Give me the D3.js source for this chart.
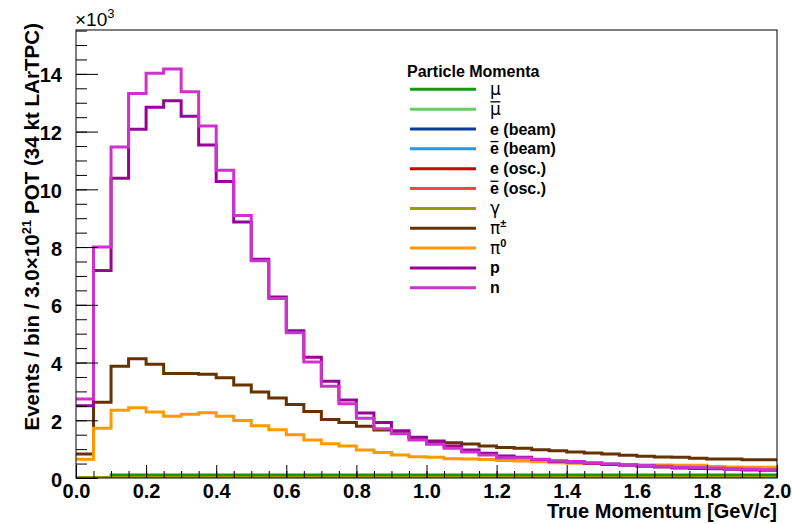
<!DOCTYPE html>
<html>
<head>
<meta charset="utf-8">
<script src="https://cdn.jsdelivr.net/npm/d3@7/dist/d3.min.js"></script>
<style>
body { margin: 0; background: #fff; }
text { font-family: "Liberation Sans", Arial, sans-serif; }
</style>
</head>
<body>
<svg id="chart" width="792" height="524"></svg>
<script>
// histogram contents, in units of 10^3 events per 0.05 GeV/c bin (40 bins, 0 - 2 GeV/c)
var binLow = 0.0, binHigh = 2.0, binWidth = 0.05;

var muVals = [0, 0, 0.1, 0.1, 0.1, 0.1, 0.1, 0.1, 0.1, 0.1, 0.1, 0.1, 0.1, 0.1, 0.1, 0.1, 0.1, 0.1, 0.1, 0.1,
              0.1, 0.1, 0.1, 0.1, 0.1, 0.1, 0.1, 0.1, 0.1, 0.1, 0.1, 0.1, 0.1, 0.1, 0.1, 0.1, 0.1, 0.1, 0.1, 0.1];
var muBarVals = [0, 0, 0, 0, 0, 0, 0, 0, 0, 0, 0, 0, 0, 0, 0, 0, 0, 0, 0, 0,
                 0, 0, 0, 0, 0, 0, 0, 0, 0, 0, 0, 0, 0, 0, 0, 0, 0, 0, 0, 0];
var eBeamVals = [0, 0, 0, 0, 0, 0, 0, 0, 0, 0, 0, 0, 0, 0, 0, 0, 0, 0, 0, 0,
                 0, 0, 0, 0, 0, 0, 0, 0, 0, 0, 0, 0, 0, 0, 0, 0, 0, 0, 0, 0];
var eBarBeamVals = [0, 0, 0, 0, 0, 0, 0, 0, 0, 0, 0, 0, 0, 0, 0, 0, 0, 0, 0, 0,
                    0, 0, 0, 0, 0, 0, 0, 0, 0, 0, 0, 0, 0, 0, 0, 0, 0, 0, 0, 0];
var eOscVals = [0, 0, 0, 0, 0, 0, 0, 0, 0, 0, 0, 0, 0, 0, 0, 0, 0, 0, 0, 0,
                0, 0, 0, 0, 0, 0, 0, 0, 0, 0, 0, 0, 0, 0, 0, 0, 0, 0, 0, 0];
var eBarOscVals = [0, 0, 0, 0, 0, 0, 0, 0, 0, 0, 0, 0, 0, 0, 0, 0, 0, 0, 0, 0,
                   0, 0, 0, 0, 0, 0, 0, 0, 0, 0, 0, 0, 0, 0, 0, 0, 0, 0, 0, 0];
var gammaVals = [0.02, 0.02, 0.02, 0.02, 0.02, 0.02, 0.02, 0.02, 0.02, 0.02, 0.02, 0.02, 0.02, 0.02, 0.02, 0.02, 0.02, 0.02, 0.02, 0.02,
                 0.02, 0.02, 0.02, 0.02, 0.02, 0.02, 0.02, 0.02, 0.02, 0.02, 0.02, 0.02, 0.02, 0.02, 0.02, 0.02, 0.02, 0.02, 0.02, 0.02];
var piChVals = [0.83, 2.62, 3.87, 4.13, 3.94, 3.62, 3.62, 3.59, 3.47, 3.22, 2.98, 2.77, 2.55, 2.30, 2.03, 1.92, 1.79, 1.66, 1.55, 1.40,
                1.28, 1.22, 1.18, 1.11, 1.06, 1.03, 0.98, 0.94, 0.90, 0.87, 0.83, 0.79, 0.75, 0.73, 0.72, 0.68, 0.66, 0.66, 0.63, 0.63];
var pi0Vals = [0.65, 1.72, 2.35, 2.43, 2.29, 2.14, 2.21, 2.26, 2.14, 1.99, 1.81, 1.67, 1.50, 1.32, 1.19, 1.11, 0.97, 0.88, 0.80, 0.74,
               0.72, 0.67, 0.66, 0.64, 0.61, 0.59, 0.56, 0.53, 0.51, 0.50, 0.47, 0.47, 0.45, 0.45, 0.44, 0.44, 0.40, 0.38, 0.37, 0.37];
var protonVals = [2.50, 7.19, 10.38, 12.08, 12.84, 13.07, 12.53, 11.54, 10.27, 8.87, 7.58, 6.27, 5.10, 4.18, 3.35, 2.70, 2.25, 1.92, 1.64, 1.41,
                  1.26, 1.11, 0.97, 0.86, 0.76, 0.72, 0.64, 0.58, 0.55, 0.51, 0.47, 0.44, 0.41, 0.38, 0.35, 0.33, 0.32, 0.30, 0.28, 0.27];
var neutronVals = [2.74, 8.00, 11.47, 13.32, 14.02, 14.17, 13.38, 12.19, 10.66, 9.09, 7.53, 6.22, 5.03, 4.02, 3.18, 2.57, 2.07, 1.71, 1.53, 1.32,
                   1.17, 1.03, 0.90, 0.80, 0.70, 0.69, 0.65, 0.60, 0.57, 0.53, 0.49, 0.46, 0.43, 0.41, 0.37, 0.36, 0.35, 0.32, 0.30, 0.29];

var seriesLabels = ['μ', '#bar{μ}', 'e (beam)', '#bar{e} (beam)', 'e (osc.)', '#bar{e} (osc.)', 'γ', 'π^{±}', 'π^{0}', 'p', 'n'];
var seriesColors = ['#139a13', '#66cc66', '#0a3d99', '#1a9cf0', '#cc0000', '#ff4444', '#999900', '#663300', '#ff9900', '#990099', '#cc33cc'];
var seriesValues = [muVals, muBarVals, eBeamVals, eBarBeamVals, eOscVals, eBarOscVals, gammaVals, piChVals, pi0Vals, protonVals, neutronVals];

var yMax = 15.52;
var legendTitle = 'Particle Momenta';
var xTitle = 'True Momentum [GeV/c]';

var svg = d3.select('#chart');
var frame = { l: 76, r: 777, t: 30, b: 478 };

var x = d3.scaleLinear().domain([binLow, binHigh]).range([frame.l, frame.r]);
var y = d3.scaleLinear().domain([0, yMax]).range([frame.b, frame.t]);

svg.append('defs').append('clipPath').attr('id', 'clipFrame')
    .append('rect')
    .attr('x', frame.l).attr('y', frame.t)
    .attr('width', frame.r - frame.l).attr('height', frame.b - frame.t);

// rich text: greek in serif, #bar{} -> overline, ^{} -> superscript
var overRuns = [];
function addRun(sel, s, opt, size) {
    s.split(/([\u0370-\u03ff])/).forEach(function (part) {
        if (!part) return;
        var t = sel.append('tspan').text(part);
        if (/[\u0370-\u03ff]/.test(part)) {
            t.style('font-family', '"DejaVu Sans", sans-serif').style('font-weight', 'normal')
                .style('font-size', (size + 1) + 'px');
        }
        if (opt.over) overRuns.push({ text: sel, span: t, size: size });
        if (opt.sup) {
            t.attr('dy', -size * 0.42).style('font-size', Math.round(size * 0.68) + 'px');
        }
    });
}
function richText(sel, str, size) {
    var re = /#bar\{([^}]*)\}|\^\{([^}]*)\}|([^#^]+)/g, m;
    while ((m = re.exec(str))) {
        if (m[1] != null) addRun(sel, m[1], { over: true }, size);
        else if (m[2] != null) addRun(sel, m[2], { sup: true }, size);
        else addRun(sel, m[3], {}, size);
    }
}

// histograms, step outlines
var plotG = svg.append('g').attr('clip-path', 'url(#clipFrame)');
var stepLine = d3.line()
    .x(function (d) { return x(d[0]); })
    .y(function (d) { return y(d[1]); })
    .curve(d3.curveStepAfter);

seriesValues.forEach(function (vals, k) {
    var pts = vals.map(function (v, i) { return [binLow + i * binWidth, v]; });
    pts.push([binHigh, vals[vals.length - 1]]);
    plotG.append('path')
        .attr('d', stepLine(pts))
        .attr('fill', 'none')
        .attr('stroke', seriesColors[k])
        .attr('stroke-width', 3)
        .attr('stroke-linejoin', 'miter');
});

// axes
var yMajor = d3.axisLeft(y).tickValues(d3.range(0, 15, 2)).tickSize(-22).tickPadding(14)
    .tickFormat(d3.format('d'));
var yMinor = d3.axisLeft(y).tickValues(d3.range(0, yMax, 0.5)).tickSize(-11).tickFormat('');
var xMajor = d3.axisBottom(x).tickValues(d3.range(0, 2.01, 0.2)).tickSize(-13).tickPadding(6)
    .tickFormat(d3.format('.1f'));
var xMinor = d3.axisBottom(x).tickValues(d3.range(0, 2.01, 0.05)).tickSize(-7).tickFormat('');

[yMinor, yMajor].forEach(function (ax) {
    var g = svg.append('g').attr('transform', 'translate(' + frame.l + ',0)').call(ax);
    g.select('.domain').remove();
    g.selectAll('line').attr('stroke', '#000').attr('stroke-width', 1);
    g.selectAll('text').filter(function () { return this.textContent !== ''; })
        .style('font-size', '20px').style('font-weight', 'bold').attr('fill', '#000').attr('dy', '0.4em');
    g.selectAll('text').filter(function () { return this.textContent === ''; }).remove();
});
[xMinor, xMajor].forEach(function (ax) {
    var g = svg.append('g').attr('transform', 'translate(0,' + frame.b + ')').call(ax);
    g.select('.domain').remove();
    g.selectAll('line').attr('stroke', '#000').attr('stroke-width', 1);
    g.selectAll('text').filter(function () { return this.textContent !== ''; })
        .style('font-size', '20px').style('font-weight', 'bold').attr('fill', '#000');
    g.selectAll('text').filter(function () { return this.textContent === ''; }).remove();
});

// frame
svg.append('rect')
    .attr('x', frame.l).attr('y', frame.t)
    .attr('width', frame.r - frame.l).attr('height', frame.b - frame.t)
    .attr('fill', 'none').attr('stroke', '#000').attr('stroke-width', 1);

// exponent
var expo = svg.append('text')
    .attr('x', frame.l - 1).attr('y', 26)
    .style('font-size', '19px');
expo.append('tspan').text('×10');
expo.append('tspan').attr('dy', -8).style('font-size', '13px').text('3');

// axis titles
svg.append('text')
    .attr('x', frame.r).attr('y', 518)
    .style('text-anchor', 'end')
    .style('font-size', '20px').style('font-weight', 'bold')
    .text(xTitle);

var yt = svg.append('text')
    .attr('transform', 'translate(' + [39, 23] + ') rotate(-90)')
    .style('text-anchor', 'end')
    .style('font-size', '20.6px').style('font-weight', 'bold');
yt.append('tspan').text('Events / bin / 3.0×10');
yt.append('tspan').attr('dy', -8).style('font-size', '13px').text('21');
yt.append('tspan').attr('dy', 8).text(' POT (34 kt LArTPC)');

// legend
var leg = svg.append('g').attr('class', 'legend');
leg.append('text')
    .attr('x', 407).attr('y', 77)
    .style('font-size', '16px').style('font-weight', 'bold')
    .text(legendTitle);

var rowH = 19.85, row0 = 89.3;
seriesLabels.forEach(function (lab, k) {
    var ry = row0 + k * rowH;
    leg.append('line')
        .attr('x1', 410).attr('x2', 476)
        .attr('y1', ry).attr('y2', ry)
        .attr('stroke', seriesColors[k]).attr('stroke-width', 3);
    var t = leg.append('text')
        .attr('x', 490).attr('y', ry + 5.5)
        .attr('data-base', ry + 5.5)
        .style('font-size', '16px').style('font-weight', 'bold');
    richText(t, lab, 16);
});

// bars over anti-particle symbols
overRuns.forEach(function (o) {
    var node = o.span.node();
    var n = node.getNumberOfChars();
    var x0 = node.getStartPositionOfChar(0).x;
    var x1 = node.getEndPositionOfChar(n - 1).x;
    var base = +o.text.attr('data-base');
    leg.append('line')
        .attr('x1', x0 + 0.5).attr('x2', x1 - 0.5)
        .attr('y1', base - o.size * 0.8).attr('y2', base - o.size * 0.8)
        .attr('stroke', '#000').attr('stroke-width', 1.3);
});
</script>
</body>
</html>
